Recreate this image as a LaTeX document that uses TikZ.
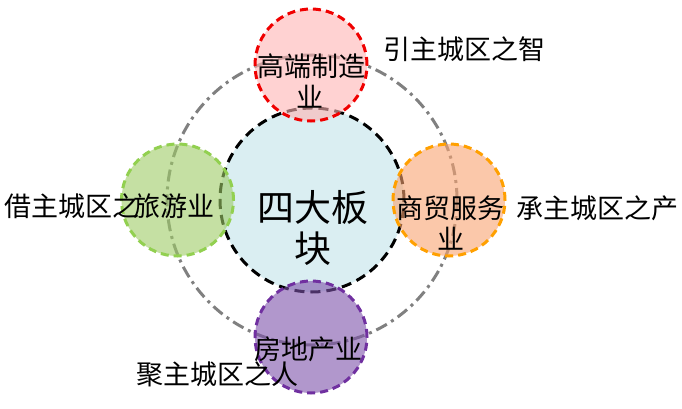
\documentclass[tikz,border=0pt]{standalone}
\usepackage{fontspec}
\newfontfamily\cjk{Noto Sans CJK SC}
\definecolor{cenfill}{RGB}{218,238,242}
\definecolor{redfill}{RGB}{255,180,180}
\definecolor{redline}{RGB}{240,0,0}
\definecolor{grnfill}{RGB}{158,203,102}
\definecolor{grnline}{RGB}{146,208,80}
\definecolor{orgfill}{RGB}{248,163,113}
\definecolor{orgline}{RGB}{255,160,0}
\definecolor{purfill}{RGB}{125,82,170}
\definecolor{purline}{RGB}{112,48,160}
\definecolor{ringgray}{RGB}{128,128,128}
\tikzset{
  bigcircle/.style={circle, inner sep=0pt, minimum size=184pt, fill=cenfill, draw=black, line width=3pt, dash pattern=on 10pt off 6pt},
  smallcircle/.style={circle, inner sep=0pt, minimum size=112pt, fill opacity=0.6, draw opacity=1, line width=3pt, dash pattern=on 8pt off 5pt},
  ring/.style={circle, inner sep=0pt, minimum size=290pt, draw=ringgray, line width=3pt, dash pattern=on 12pt off 5pt on 3pt off 5pt},
  lbl/.style={inner sep=0pt, anchor=base, font=\cjk\fontsize{27}{31}\selectfont},
  biglbl/.style={inner sep=0pt, anchor=base, font=\cjk\fontsize{37}{42}\selectfont}
}
\begin{document}
\begin{tikzpicture}[x=1pt,y=-1pt]
\useasboundingbox (0,0) rectangle (682,409);
\node[ring] (ring) at (312,200) {};
\node[bigcircle] (center) at (312,200) {};
\node[smallcircle, fill=redfill, draw=redline] (top) at (311,65) {};
\node[smallcircle, fill=grnfill, draw=grnline] (left) at (177.5,200) {};
\node[smallcircle, fill=orgfill, draw=orgline] (right) at (449,200) {};
\node[smallcircle, fill=purfill, draw=purline] (bottom) at (311,337) {};
% texts
\node[biglbl] (t1) at (313,221) {四大板};
\node[biglbl] (t2) at (313,262) {块};
\node[lbl] (top1) at (311,77) {高端制造};
\node[lbl] (top2) at (310,108) {业};
\node[lbl] (left1) at (174,216) {旅游业};
\node[lbl] (right1) at (450,218) {商贸服务};
\node[lbl] (right2) at (451,249) {业};
\node[lbl] (bot1) at (308,359) {房地产业};
\node[lbl] (q1) at (464,60) {引主城区之智};
\node[lbl, anchor=base west] (q2) at (4,216) {借主城区之};
\node[lbl] (q3) at (597,218) {承主城区之产};
\node[lbl] (q4) at (217,384) {聚主城区之人};
\end{tikzpicture}
\end{document}
